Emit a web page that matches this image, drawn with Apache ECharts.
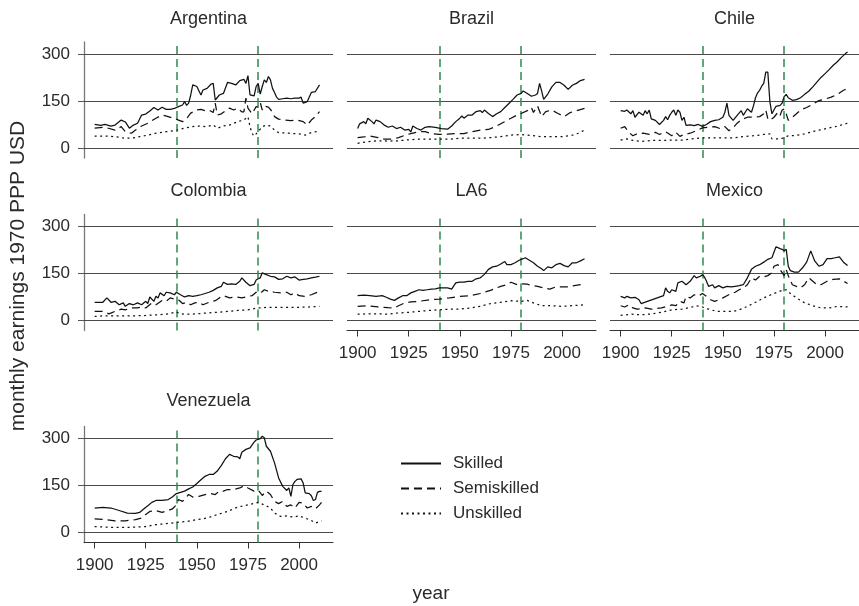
<!DOCTYPE html>
<html>
<head>
<meta charset="utf-8">
<script src="https://cdn.jsdelivr.net/npm/echarts@6/dist/echarts.min.js"></script>
<style>html,body{margin:0;padding:0;background:#fff}#c{width:859px;height:606px}</style>
</head>
<body>
<div id="c"></div>
<script>
var countries = ['Argentina','Brazil','Chile','Colombia','LA6','Mexico','Venezuela'];
var seriesNames = ['Skilled','Semiskilled','Unskilled'];
var xTickValues = [1900,1925,1950,1975,2000];
var yTickValues = [0,150,300];
var markYears = [1940,1980];

var argentinaSkilled = [[1900,75],[1903,72],[1905,75],[1908,70],[1910,73],[1913,89],[1915,83],[1917,63],[1919,73],[1921,79],[1923,105],[1925,108],[1927,118],[1929,129],[1931,121],[1933,130],[1935,123],[1937,123],[1939,126],[1941,132],[1943,137],[1944,148],[1945,136],[1946,143],[1947,169],[1948,201],[1950,196],[1952,169],[1953,185],[1955,190],[1957,204],[1958,206],[1959,153],[1961,169],[1963,174],[1965,209],[1967,206],[1969,201],[1971,215],[1973,219],[1974,206],[1975,231],[1976,169],[1978,166],[1979,196],[1980,206],[1981,172],[1982,196],[1983,217],[1984,209],[1985,228],[1986,217],[1987,190],[1988,177],[1989,162],[1990,155],[1992,157],[1994,159],[1996,157],[1998,159],[2000,159],[2001,162],[2002,143],[2004,148],[2006,177],[2008,180],[2010,201]];
var argentinaSemiskilled = [[1900,63],[1905,66],[1910,57],[1913,68],[1915,52],[1918,47],[1920,57],[1923,70],[1926,79],[1930,95],[1933,105],[1936,100],[1939,94],[1941,89],[1943,84],[1945,94],[1947,111],[1950,121],[1952,123],[1954,119],[1956,121],[1958,113],[1959,143],[1960,105],[1962,109],[1964,119],[1966,127],[1968,121],[1970,127],[1972,115],[1973,115],[1974,159],[1975,127],[1977,109],[1979,132],[1980,130],[1981,145],[1982,121],[1983,134],[1985,130],[1987,115],[1988,100],[1990,92],[1993,89],[1996,87],[1999,89],[2002,84],[2004,73],[2006,89],[2008,100],[2010,116]];
var argentinaUnskilled = [[1900,38],[1905,38],[1910,36],[1915,31],[1918,31],[1922,36],[1926,41],[1930,47],[1935,52],[1939,55],[1942,60],[1946,66],[1950,70],[1955,68],[1958,73],[1960,63],[1963,70],[1966,73],[1970,84],[1973,89],[1975,100],[1976,68],[1977,47],[1978,38],[1980,52],[1982,68],[1984,73],[1986,70],[1988,57],[1990,49],[1995,47],[2000,45],[2003,41],[2006,49],[2010,54]];

var brazilSkilled = [[1900,62],[1901,77],[1903,84],[1904,77],[1905,95],[1907,84],[1908,77],[1909,89],[1911,84],[1913,73],[1915,66],[1917,70],[1919,62],[1921,66],[1923,57],[1925,59],[1926,51],[1927,70],[1929,62],[1931,57],[1933,66],[1935,68],[1938,66],[1941,62],[1944,60],[1946,70],[1948,84],[1950,95],[1951,102],[1952,95],[1954,105],[1956,105],[1958,116],[1960,119],[1961,113],[1962,121],[1964,110],[1966,100],[1968,109],[1970,116],[1972,129],[1974,142],[1976,155],[1978,169],[1980,174],[1981,182],[1983,174],[1985,165],[1987,169],[1988,174],[1989,206],[1990,182],[1991,155],[1993,172],[1995,195],[1997,209],[1999,209],[2001,200],[2003,187],[2005,200],[2007,206],[2009,215],[2011,219]];
var brazilSemiskilled = [[1900,33],[1903,35],[1906,38],[1910,33],[1913,28],[1917,28],[1920,33],[1923,40],[1926,46],[1930,52],[1933,52],[1936,46],[1940,43],[1944,44],[1948,46],[1952,46],[1956,52],[1960,57],[1964,59],[1968,70],[1972,84],[1975,95],[1978,105],[1980,110],[1983,119],[1985,129],[1986,113],[1988,134],[1990,100],[1992,116],[1995,121],[1998,110],[2001,100],[2004,113],[2007,119],[2011,126]];
var brazilUnskilled = [[1900,15],[1905,20],[1910,23],[1915,22],[1920,23],[1925,26],[1930,28],[1935,28],[1940,28],[1945,28],[1950,31],[1955,31],[1960,31],[1965,33],[1970,36],[1975,41],[1980,43],[1985,40],[1990,36],[1995,36],[2000,36],[2005,41],[2008,47],[2011,57]];

var chileSkilled = [[1900,119],[1902,117],[1903,121],[1905,109],[1906,119],[1907,98],[1909,114],[1911,104],[1912,119],[1913,109],[1914,121],[1915,93],[1917,88],[1919,75],[1921,88],[1922,100],[1923,90],[1924,104],[1925,114],[1926,121],[1927,104],[1928,121],[1929,114],[1930,88],[1931,98],[1932,72],[1934,74],[1936,71],[1938,75],[1940,69],[1942,75],[1944,84],[1946,88],[1948,90],[1950,98],[1951,114],[1952,143],[1953,104],[1955,88],[1957,104],[1959,119],[1960,104],[1962,125],[1964,114],[1965,135],[1966,161],[1967,176],[1968,184],[1969,197],[1970,206],[1971,242],[1972,242],[1973,148],[1974,109],[1976,133],[1978,136],[1979,143],[1980,164],[1981,171],[1982,160],[1984,152],[1986,154],[1988,160],[1990,171],[1992,181],[1994,195],[1996,210],[1998,225],[2000,237],[2002,250],[2004,264],[2006,275],[2008,289],[2010,301],[2011,306]];
var chileSemiskilled = [[1900,63],[1902,68],[1904,50],[1906,39],[1908,45],[1911,47],[1914,43],[1917,50],[1919,43],[1922,52],[1925,39],[1927,50],[1929,37],[1931,43],[1934,47],[1937,55],[1940,64],[1943,66],[1946,68],[1949,61],[1951,68],[1953,55],[1955,64],[1957,79],[1959,90],[1962,98],[1965,98],[1968,100],[1970,109],[1971,121],[1972,93],[1973,88],[1975,98],[1977,114],[1978,104],[1979,121],[1980,124],[1981,109],[1982,88],[1984,98],[1986,109],[1988,121],[1991,129],[1994,140],[1997,151],[2000,156],[2003,162],[2006,171],[2009,184],[2011,189]];
var chileUnskilled = [[1900,25],[1903,29],[1906,24],[1910,21],[1915,24],[1920,24],[1925,25],[1930,25],[1935,29],[1940,32],[1945,32],[1950,32],[1955,32],[1960,36],[1965,39],[1970,43],[1973,45],[1974,29],[1977,29],[1980,32],[1982,39],[1985,39],[1990,45],[1995,54],[2000,61],[2005,68],[2011,79]];

var colombiaSkilled = [[1900,58],[1904,58],[1906,72],[1908,58],[1910,61],[1912,50],[1914,56],[1915,45],[1917,54],[1919,50],[1921,56],[1923,50],[1925,61],[1926,54],[1927,75],[1929,61],[1930,77],[1931,72],[1932,88],[1934,79],[1935,90],[1937,88],[1939,82],[1940,90],[1942,82],[1944,75],[1946,79],[1948,77],[1950,79],[1952,82],[1954,86],[1956,90],[1958,96],[1960,104],[1962,109],[1963,122],[1965,115],[1967,117],[1969,115],[1971,125],[1972,136],[1974,122],[1976,111],[1978,115],[1979,129],[1980,133],[1981,136],[1982,152],[1984,146],[1986,141],[1988,139],[1990,131],[1992,133],[1994,141],[1996,136],[1998,139],[2000,129],[2002,131],[2004,133],[2006,136],[2008,138],[2010,141]];
var colombiaSemiskilled = [[1900,29],[1904,29],[1907,21],[1910,29],[1913,36],[1915,34],[1918,40],[1921,40],[1923,43],[1925,40],[1928,56],[1930,50],[1933,64],[1935,61],[1937,72],[1939,68],[1941,66],[1943,54],[1945,58],[1947,50],[1949,56],[1951,58],[1953,50],[1956,58],[1959,63],[1961,72],[1963,79],[1966,72],[1969,75],[1972,72],[1975,77],[1977,79],[1979,90],[1981,86],[1983,98],[1985,93],[1988,90],[1991,88],[1994,90],[1996,82],[1998,88],[2000,79],[2003,77],[2006,82],[2010,93]];
var colombiaUnskilled = [[1900,13],[1905,15],[1910,15],[1915,15],[1920,15],[1925,16],[1930,18],[1935,20],[1940,27],[1942,21],[1945,20],[1950,21],[1955,24],[1960,26],[1965,29],[1970,32],[1975,34],[1980,40],[1985,42],[1990,42],[1995,42],[2000,42],[2005,43],[2010,45]];

var la6Skilled = [[1900,79],[1903,81],[1906,79],[1909,77],[1912,79],[1914,74],[1916,68],[1918,64],[1920,72],[1922,79],[1924,79],[1926,88],[1928,93],[1930,98],[1932,96],[1934,98],[1936,100],[1938,101],[1940,104],[1942,104],[1944,104],[1946,100],[1948,120],[1950,122],[1952,122],[1954,125],[1956,125],[1958,133],[1960,136],[1962,147],[1964,163],[1966,171],[1968,173],[1970,180],[1972,188],[1973,178],[1975,178],[1977,184],[1979,192],[1981,197],[1982,200],[1984,192],[1986,184],[1988,173],[1990,165],[1991,159],[1993,171],[1995,168],[1997,178],[1999,182],[2001,175],[2003,171],[2005,184],[2007,184],[2009,190],[2011,197]];
var la6Semiskilled = [[1900,45],[1905,47],[1910,43],[1915,41],[1918,40],[1920,47],[1923,56],[1926,59],[1930,61],[1935,66],[1940,68],[1945,72],[1950,77],[1955,79],[1960,86],[1965,96],[1970,109],[1973,114],[1975,122],[1978,114],[1980,117],[1983,116],[1985,111],[1988,109],[1991,104],[1994,100],[1997,107],[2000,107],[2003,107],[2006,111],[2009,114],[2011,114]];
var la6Unskilled = [[1900,20],[1905,21],[1910,21],[1915,20],[1920,24],[1925,26],[1930,29],[1935,32],[1940,34],[1945,36],[1950,36],[1955,40],[1960,45],[1965,54],[1970,58],[1975,63],[1980,61],[1983,64],[1986,56],[1990,47],[1995,47],[2000,45],[2005,47],[2011,50]];

var mexicoSkilled = [[1900,77],[1902,72],[1903,77],[1905,72],[1907,74],[1909,66],[1910,54],[1921,79],[1922,104],[1923,93],[1924,88],[1925,98],[1927,93],[1928,120],[1930,125],[1932,114],[1934,125],[1936,143],[1937,136],[1939,141],[1940,146],[1941,139],[1942,125],[1943,109],[1945,114],[1946,104],[1948,111],[1950,104],[1952,109],[1954,107],[1956,109],[1958,111],[1960,114],[1962,136],[1964,163],[1966,173],[1968,178],[1970,186],[1972,195],[1974,200],[1976,235],[1978,229],[1979,227],[1980,222],[1981,227],[1982,173],[1983,159],[1985,154],[1987,154],[1989,168],[1991,186],[1993,222],[1995,189],[1997,173],[1999,178],[2001,197],[2003,197],[2005,200],[2007,203],[2009,186],[2011,175]];
var mexicoSemiskilled = [[1900,47],[1902,43],[1904,50],[1906,40],[1908,36],[1912,40],[1915,36],[1920,40],[1923,45],[1925,50],[1927,47],[1929,61],[1931,56],[1932,77],[1934,72],[1936,82],[1938,77],[1940,86],[1942,77],[1944,66],[1946,61],[1948,66],[1950,72],[1952,79],[1954,86],[1956,90],[1958,98],[1960,104],[1962,114],[1964,136],[1966,129],[1968,141],[1970,139],[1972,143],[1974,152],[1975,173],[1977,178],[1978,162],[1980,143],[1981,162],[1982,143],[1984,114],[1986,109],[1988,104],[1990,114],[1992,136],[1994,125],[1996,114],[1998,114],[2001,125],[2004,131],[2007,133],[2011,118]];
var mexicoUnskilled = [[1900,16],[1905,20],[1910,18],[1915,21],[1920,26],[1925,34],[1930,36],[1935,43],[1937,47],[1940,43],[1943,36],[1947,29],[1950,29],[1955,29],[1958,34],[1962,45],[1966,58],[1970,72],[1975,86],[1979,96],[1981,98],[1983,86],[1986,72],[1990,56],[1994,47],[1998,40],[2002,40],[2006,45],[2011,43]];

var venezuelaSkilled = [[1900,78],[1904,80],[1908,78],[1912,70],[1916,62],[1920,61],[1922,64],[1924,75],[1926,85],[1928,96],[1930,102],[1933,102],[1936,105],[1938,113],[1940,124],[1942,128],[1944,132],[1946,139],[1948,145],[1950,156],[1952,168],[1954,179],[1956,185],[1958,185],[1960,196],[1962,214],[1964,235],[1966,249],[1968,243],[1970,241],[1971,235],[1972,256],[1974,265],[1976,270],[1978,288],[1979,295],[1980,297],[1981,299],[1982,307],[1983,302],[1984,275],[1986,259],[1988,222],[1990,174],[1992,147],[1994,134],[1995,142],[1996,115],[1997,153],[1998,163],[1999,169],[2001,171],[2002,158],[2003,126],[2005,124],[2006,117],[2007,102],[2008,105],[2009,128],[2010,131],[2011,131]];
var venezuelaSemiskilled = [[1900,43],[1905,41],[1910,37],[1915,37],[1920,41],[1923,46],[1925,57],[1927,67],[1930,70],[1933,64],[1936,70],[1938,75],[1940,88],[1941,105],[1943,99],[1946,121],[1948,113],[1951,115],[1954,121],[1957,124],[1959,121],[1961,132],[1963,132],[1965,137],[1968,137],[1971,142],[1973,149],[1975,142],[1978,132],[1980,135],[1982,118],[1984,132],[1986,121],[1988,99],[1990,92],[1992,99],[1994,83],[1996,88],[1998,78],[2000,96],[2002,94],[2004,78],[2006,83],[2008,75],[2010,88],[2011,96]];
var venezuelaUnskilled = [[1900,19],[1905,17],[1910,16],[1915,16],[1920,17],[1925,19],[1930,25],[1935,28],[1940,32],[1945,35],[1950,41],[1955,46],[1960,57],[1965,67],[1970,81],[1975,88],[1980,96],[1983,88],[1986,78],[1988,62],[1991,51],[1994,53],[1997,49],[2000,53],[2003,46],[2006,38],[2008,30],[2011,37]];

var panelData = [
  [argentinaSkilled, argentinaSemiskilled, argentinaUnskilled],
  [brazilSkilled, brazilSemiskilled, brazilUnskilled],
  [chileSkilled, chileSemiskilled, chileUnskilled],
  [colombiaSkilled, colombiaSemiskilled, colombiaUnskilled],
  [la6Skilled, la6Semiskilled, la6Unskilled],
  [mexicoSkilled, mexicoSemiskilled, mexicoUnskilled],
  [venezuelaSkilled, venezuelaSemiskilled, venezuelaUnskilled]
];

var FONT = 'Liberation Sans, Arial, Helvetica, sans-serif';
var TXT = '#2b2b2b';
var colLeft = [84, 347, 610];
var rowTop = [42, 214.5, 426.5];
var titleTop = [10, 182, 392];
var PW = 249, PH = 116;
var showX = [false,false,false,false,true,true,true];
var showY = [true,false,false,true,false,false,true];
var lineTypes = ['solid', [8,5], [2,3.5]];

var grids = [], xAxes = [], yAxes = [], series = [], titles = [];
countries.forEach(function(name, i){
  var c = i % 3, r = Math.floor(i / 3);
  grids.push({left: colLeft[c], top: rowTop[r], width: PW, height: PH, containLabel: false});
  titles.push({text: name, left: colLeft[c] + PW/2, top: titleTop[r], textAlign: 'center', padding: 0,
    textStyle: {fontFamily: FONT, fontSize: 18, fontWeight: 'normal', color: TXT}});
  xAxes.push({type: 'value', gridIndex: i, min: 1894.8, max: 2016.6,
    axisLine: {show: showX[i], onZero: false, lineStyle: {color: '#333', width: 1}},
    axisTick: {show: showX[i], length: 6, customValues: xTickValues, lineStyle: {color: '#333', width: 1}},
    axisLabel: {show: showX[i], customValues: xTickValues, margin: 14, fontFamily: FONT, fontSize: 17, color: TXT,
      formatter: function(v){ return String(Math.round(v)); }},
    splitLine: {show: false}});
  yAxes.push({type: 'value', gridIndex: i, min: -32, max: 338,
    axisLine: {show: showY[i], lineStyle: {color: '#777', width: 1.3}},
    axisTick: {show: showY[i], length: 6, customValues: yTickValues, lineStyle: {color: '#555', width: 1}},
    axisLabel: {show: showY[i], customValues: yTickValues, margin: 14, fontFamily: FONT, fontSize: 17, color: TXT},
    splitLine: {show: false}});
  panelData[i].forEach(function(d, k){
    var s = {
      name: seriesNames[k], type: 'line', xAxisIndex: i, yAxisIndex: i, data: d,
      symbol: 'none', showSymbol: false, silent: true, animation: false, z: 3,
      lineStyle: {color: '#111', width: 1.25, type: lineTypes[k]},
      itemStyle: {color: '#111'}
    };
    if (k === 0) {
      s.markLine = {
        silent: true, symbol: 'none', animation: false, label: {show: false}, z: 1,
        data: yTickValues.map(function(v){ return {yAxis: v, lineStyle: {color: '#4a4a4a', width: 1.2, type: 'solid'}}; })
          .concat(markYears.map(function(v){ return {xAxis: v, lineStyle: {color: '#2e8b4f', width: 1.5, type: [8,5]}}; }))
      };
    }
    series.push(s);
  });
});

var chart = echarts.init(document.getElementById('c'), null, {renderer: 'canvas'});
chart.setOption({
  animation: false,
  backgroundColor: '#fff',
  title: titles,
  grid: grids,
  xAxis: xAxes,
  yAxis: yAxes,
  series: series,
  legend: {
    data: seriesNames, orient: 'vertical', left: 400, top: 455, padding: 0,
    itemWidth: 40, itemHeight: 14, itemGap: 8, selectedMode: false,
    itemStyle: {color: 'rgba(0,0,0,0)', borderColor: 'rgba(0,0,0,0)', borderWidth: 0, opacity: 0},
    textStyle: {fontFamily: FONT, fontSize: 17, lineHeight: 17, color: TXT, padding: [0,0,0,7]}
  },
  graphic: [
    {type: 'text', x: 18, y: 276, rotation: Math.PI/2, z: 10,
      style: {text: 'monthly earnings 1970 PPP USD', font: '21px ' + FONT, fill: TXT,
        align: 'center', verticalAlign: 'middle', textAlign: 'center', textVerticalAlign: 'middle'}},
    {type: 'text', z: 10, x: 431, y: 594,
      style: {text: 'year', font: '19px ' + FONT, fill: TXT,
        align: 'center', verticalAlign: 'middle', textAlign: 'center', textVerticalAlign: 'middle'}}
  ]
});
</script>
</body>
</html>
